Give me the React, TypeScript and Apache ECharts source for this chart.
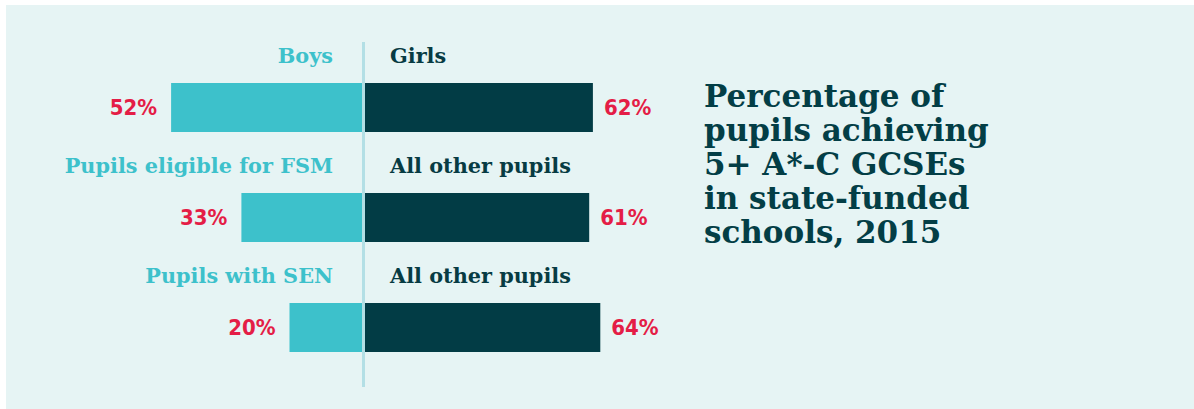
import React, { useEffect, useRef } from "react";
import * as echarts from "echarts";

const leftLabels = ["Boys", "Pupils eligible for FSM", "Pupils with SEN"];
const rightLabels = ["Girls", "All other pupils", "All other pupils"];
const leftValues = [52, 33, 20];
const rightValues = [62, 61, 64];
const titleLines = [
  "Percentage of",
  "pupils achieving",
  "5+ A*-C GCSEs",
  "in state-funded",
  "schools, 2015",
];

const TEAL = "#3dc1cb";
const DARK = "#023c45";
const RED = "#e41d46";
const LINE = "#b3dfe5";
const BG = "#e6f4f4";
const SLAB = "'DejaVu Serif', serif";
const PCT = "'DejaVu Sans Condensed', 'DejaVu Sans', sans-serif";

export default function App() {
  const ref = useRef<HTMLDivElement>(null);

  useEffect(() => {
    document.body.style.margin = "0";
    document.body.style.background = "#ffffff";
    if (!ref.current) return;
    const chart = echarts.init(ref.current, undefined, { renderer: "svg" });

    const pctLabel = (pos: "left" | "right", dist: number) => ({
      show: true,
      position: pos,
      distance: dist,
      color: RED,
      fontFamily: PCT,
      fontWeight: "bold" as const,
      fontSize: 22,
      formatter: (p: any) => Math.abs(p.value) + "%",
    });

    const catLabel = (
      pos: "left" | "right",
      dist: number,
      color: string,
      texts: string[]
    ) => ({
      show: true,
      position: pos,
      distance: dist,
      offset: [0, -52],
      color,
      opacity: 1,
      fontFamily: SLAB,
      fontWeight: "bold" as const,
      fontSize: 20.8,
      formatter: (p: any) => texts[p.dataIndex],
    });

    chart.setOption({
      animation: false,
      backgroundColor: BG,
      title: {
        text: titleLines.join("\n"),
        left: 698,
        top: 74,
        padding: 0,
        textStyle: {
          fontFamily: SLAB,
          fontWeight: "bold",
          fontSize: 31,
          lineHeight: 34,
          color: "#033e46",
        },
      },
      grid: { left: 135.5, top: 47.5, width: 481, height: 330 },
      xAxis: { type: "value", min: -60, max: 70, show: false },
      yAxis: {
        type: "category",
        data: leftLabels,
        inverse: true,
        show: false,
      },
      series: [
        {
          type: "bar",
          name: "Left group",
          data: leftValues.map((v) => -v),
          barWidth: 49,
          barGap: "-100%",
          itemStyle: { color: TEAL },
          label: pctLabel("left", 14),
        },
        {
          type: "bar",
          name: "Right group",
          data: rightValues,
          barWidth: 49,
          barGap: "-100%",
          itemStyle: { color: DARK },
          label: pctLabel("right", 11),
        },
        {
          type: "scatter",
          data: leftLabels.map((_, i) => [0, i]),
          symbolSize: 1,
          itemStyle: { color: "rgba(0,0,0,0)", opacity: 1 },
          label: catLabel("left", 30, TEAL, leftLabels),
          silent: true,
        },
        {
          type: "scatter",
          data: rightLabels.map((_, i) => [0, i]),
          symbolSize: 1,
          itemStyle: { color: "rgba(0,0,0,0)", opacity: 1 },
          label: catLabel("right", 26, "#073b43", rightLabels),
          silent: true,
        },
      ],
    });

    const x0 = chart.convertToPixel({ xAxisIndex: 0 }, 0) as number;
    chart.setOption({
      graphic: [
        {
          type: "line",
          z: 100,
          shape: { x1: x0, y1: 37, x2: x0, y2: 382 },
          style: { stroke: LINE, lineWidth: 3 },
        },
      ],
    });

    return () => chart.dispose();
  }, []);

  return (
    <div
      ref={ref}
      style={{ position: "absolute", left: 6, top: 5, width: 1188, height: 404 }}
    />
  );
}
